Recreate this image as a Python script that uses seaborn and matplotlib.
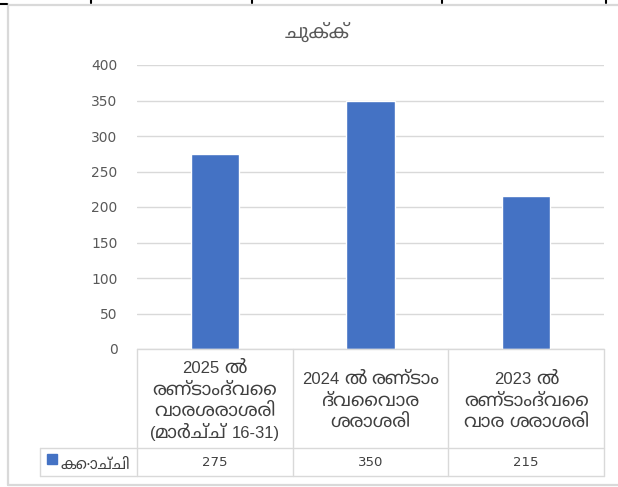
import matplotlib
matplotlib.use("Agg")
import matplotlib.pyplot as plt
from matplotlib import font_manager
from matplotlib.lines import Line2D
from matplotlib.patches import Rectangle
import seaborn as sns
import pandas as pd

# ---- data ----
title = "ചുക്ക്"
categories = [
    "2025 ൽ\nരണ്ടാംദ്വൈ\nവാരശരാശരി\n(മാർച്ച് 16-31)",
    "2024 ൽ രണ്ടാം\nദ്വൈവാര\nശരാശരി",
    "2023 ൽ\nരണ്ടാംദ്വൈ\nവാര ശരാശരി",
]
series_name = "കൊച്ചി"
values = [275, 350, 215]
yticks = [0, 50, 100, 150, 200, 250, 300, 350, 400]

# ---- find a font covering Malayalam ----
mal_family = None
cands = []
try:
    from fontTools.ttLib import TTFont
    for f in font_manager.fontManager.ttflist:
        try:
            tt = TTFont(f.fname, fontNumber=0, lazy=True)
            cmap = tt.getBestCmap()
            if cmap and 0x0D1A in cmap and 0x0D4D in cmap:
                cands.append(f.name)
        except Exception:
            continue
except Exception:
    pass
pref = ["Noto Sans Malayalam UI", "Noto Sans Malayalam", "Manjari",
        "Noto Serif Malayalam"]
for p in pref:
    if p in cands:
        mal_family = p
        break
if mal_family is None and cands:
    mal_family = cands[0]

sns.set_theme(style="white")
LAT = ["Liberation Sans", "DejaVu Sans"]
MAL = ([mal_family] if mal_family else []) + ["DejaVu Sans"]
plt.rcParams["font.family"] = LAT

W, H = 618, 487
fig = plt.figure(figsize=(W / 100, H / 100), dpi=100)
renderer = fig.canvas.get_renderer()

def fx(x):
    return x / W

def fy(y):
    return 1 - y / H

def is_mal(ch):
    return 0x0D00 <= ord(ch) <= 0x0D7F or ch in "\u200c\u200d"

def split_runs(s):
    runs = []
    for word_i, word in enumerate(s.split(" ")):
        if word_i > 0:
            runs.append((" ", None))
        cur, kind = "", None
        for ch in word:
            k = is_mal(ch)
            if cur and k != kind:
                runs.append((cur, kind))
                cur = ""
            cur += ch
            kind = k
        if cur:
            runs.append((cur, kind))
    return runs

def draw_line(x, y_center, s, lat_fs, mal_fs, color, ha="center", space_px=4):
    """Draw a mixed Latin/Malayalam line; y_center is the visual centre (px)."""
    runs = split_runs(s)
    items = []
    total = 0.0
    for seg, kind in runs:
        if kind is None:
            items.append((None, space_px))
            total += space_px
            continue
        t = fig.text(0, 0, seg, fontsize=mal_fs if kind else lat_fs,
                     family=MAL if kind else LAT, color=color, va="baseline",
                     ha="left")
        w = t.get_window_extent(renderer).width
        items.append((t, w))
        total += w
    baseline = y_center + lat_fs * 100 / 72 * 0.36
    x0 = x - total / 2 if ha == "center" else x
    for t, w in items:
        if t is not None:
            t.set_position((fx(x0), fy(baseline)))
        x0 += w

left, right, top, bottom = 137, 604, 65, 349
ax = fig.add_axes([fx(left), fy(bottom), fx(right) - fx(left), fy(top) - fy(bottom)])

df = pd.DataFrame({"cat": categories, "val": values})
sns.barplot(data=df, x="cat", y="val", color="#4472C4", width=0.31,
            saturation=1, ax=ax, zorder=3)
ax.set_ylim(0, 400)
ax.set_xlim(-0.5, len(categories) - 0.5)
ax.set_yticks(yticks)
ax.set_yticklabels([str(v) for v in yticks], color="#595959", fontsize=10,
                   family=["DejaVu Sans"])
ax.tick_params(axis="y", length=0, pad=14)
ax.set_xticks([])
ax.set_xlabel("")
ax.set_ylabel("")
ax.yaxis.grid(True, color="#D9D9D9", linewidth=1)
ax.set_axisbelow(True)
for s in ax.spines.values():
    s.set_visible(False)

grid_c = "#D9D9D9"

def hline(x0, x1, y, c=grid_c, lw=1.0):
    fig.add_artist(Line2D([fx(x0), fx(x1)], [fy(y), fy(y)], color=c, lw=lw))

def vline(x, y0, y1, c=grid_c, lw=1.0):
    fig.add_artist(Line2D([fx(x), fx(x)], [fy(y0), fy(y1)], color=c, lw=lw))

# data table
col_edges = [left + i * (right - left) / 3 for i in range(4)]
row_top, row_mid, row_bot = 349, 448, 476
leg_left = 40
hline(left, right, row_top)
hline(leg_left, right, row_mid)
hline(leg_left, right, row_bot)
for x in col_edges:
    vline(x, row_top, row_bot)
vline(leg_left, row_mid, row_bot)

line_h = 21.5
txt_c = "#404040"
for i, (c, v) in enumerate(zip(categories, values)):
    cx = (col_edges[i] + col_edges[i + 1]) / 2
    lines = c.split("\n")
    mid = (row_top + row_mid) / 2 + 1
    y0 = mid - (len(lines) - 1) * line_h / 2
    for j, ln in enumerate(lines):
        draw_line(cx, y0 + j * line_h, ln, 12, 13.5, txt_c, space_px=5)
    fig.text(fx(cx), fy((row_mid + row_bot) / 2 + 1), str(v), ha="center",
             va="center", fontsize=9.5, color=txt_c, family=["DejaVu Sans"])

# legend key in table
fig.add_artist(Rectangle((fx(47), fy(464)), fx(10), fy(454) - fy(464),
                         color="#4472C4", transform=fig.transFigure))
draw_line(61, (row_mid + row_bot) / 2 + 1, series_name, 11.5, 11, txt_c,
          ha="left")

# title
draw_line(317, 32, title, 12, 14, "#595959")

# chart border
hline(8, 618, 4.5, lw=1.6)
vline(8, 4, 485, lw=1.6)
hline(8, 618, 485, lw=1.6)
# cropped black marks along the top
hline(0, 7, 3.5, c="black", lw=1.5)
for x in [91, 252, 442, 606]:
    vline(x, 0, 3, c="black", lw=1.5)

fig.savefig("out.png", dpi=100)
